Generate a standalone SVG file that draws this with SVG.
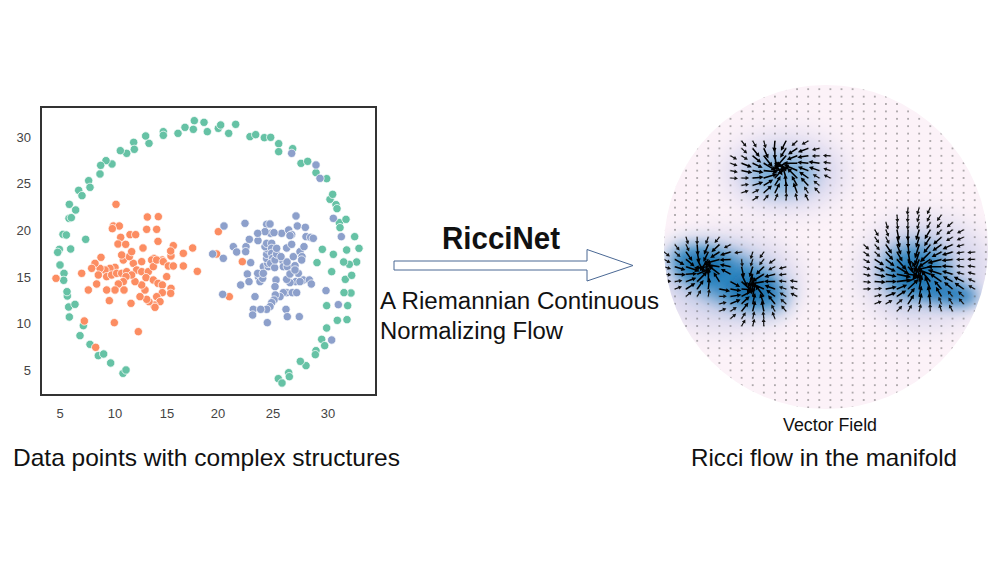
<svg xmlns="http://www.w3.org/2000/svg" width="1000" height="563" viewBox="0 0 1000 563">
<style>
.t{font-family:"Liberation Sans",Arial,sans-serif;fill:#111}
.tick{font-family:"Liberation Sans",Arial,sans-serif;font-size:13px;fill:#444}
.g circle{fill:#66c2a5;stroke:#fff;stroke-width:2.2}
.o circle{fill:#fc8d62;stroke:#fff;stroke-width:2.2}
.b circle{fill:#8da0cb;stroke:#fff;stroke-width:2.2}
.arr path{fill:none;stroke:none}
</style>
<defs>
<marker id="m3" markerUnits="userSpaceOnUse" orient="auto" overflow="visible" markerWidth="1" markerHeight="1" refX="0" refY="0"><path transform="rotate(15)" d="M0,-0.8L9.5,-0.8L9.5,-2.4L14.5,0L9.5,2.4L9.5,0.8L0,0.8Z" fill="#000"/></marker>
<marker id="m2" markerUnits="userSpaceOnUse" orient="auto" overflow="visible" markerWidth="1" markerHeight="1" refX="0" refY="0"><path transform="rotate(15)" d="M0,-0.75L6.8,-0.75L6.8,-2.2L11,0L6.8,2.2L6.8,0.75L0,0.75Z" fill="#000"/></marker>
<marker id="m1" markerUnits="userSpaceOnUse" orient="auto" overflow="visible" markerWidth="1" markerHeight="1" refX="0" refY="0"><path transform="rotate(15)" d="M0,-0.6L4,-0.6L4,-2L7.5,0L4,2L4,0.6L0,0.6Z" fill="#111"/></marker>
<pattern id="dots" patternUnits="userSpaceOnUse" x="669.45" y="211.3" width="11.1" height="7.4"><rect x="5.05" y="2.9" width="1" height="1.6" fill="#555"/></pattern>
<clipPath id="cc"><circle cx="826" cy="247" r="162"/></clipPath>
<filter id="bl12" x="-60%" y="-60%" width="220%" height="220%"><feGaussianBlur stdDeviation="13"/></filter>
<filter id="bl8" x="-60%" y="-60%" width="220%" height="220%"><feGaussianBlur stdDeviation="9"/></filter>
<filter id="bl5" x="-60%" y="-60%" width="220%" height="220%"><feGaussianBlur stdDeviation="7"/></filter>
</defs>
<rect width="1000" height="563" fill="#fff"/>

<g id="scatter-plot">
<rect x="41" y="107" width="335" height="288" fill="#fff" stroke="#333" stroke-width="2"/>
<g class="tick" text-anchor="middle">
<text x="60" y="418">5</text><text x="115" y="418">10</text><text x="167" y="418">15</text><text x="218" y="418">20</text><text x="273" y="418">25</text><text x="328" y="418">30</text>
</g>
<g class="tick" text-anchor="end">
<text x="31" y="142">30</text><text x="31" y="188">25</text><text x="31" y="235">20</text><text x="31" y="282">15</text><text x="31" y="328">10</text><text x="31" y="375">5</text>
</g>
<g transform="translate(0 100) scale(0.33333)">
<g class="g">
<circle cx="583" cy="62" r="12.5"/><circle cx="612" cy="67" r="12.5"/><circle cx="555" cy="82" r="12.5"/><circle cx="534" cy="100" r="12.5"/><circle cx="580" cy="88" r="12.5"/><circle cx="622" cy="95" r="12.5"/><circle cx="655" cy="85" r="12.5"/><circle cx="662" cy="75" r="12.5"/><circle cx="686" cy="100" r="12.5"/><circle cx="707" cy="73" r="12.5"/><circle cx="490" cy="95" r="12.5"/><circle cx="490" cy="106" r="12.5"/><circle cx="447" cy="130" r="12.5"/><circle cx="437" cy="108" r="12.5"/><circle cx="401" cy="127" r="12.5"/><circle cx="403" cy="148" r="12.5"/><circle cx="380" cy="160" r="12.5"/><circle cx="361" cy="152" r="12.5"/><circle cx="336" cy="192" r="12.5"/><circle cx="318" cy="182" r="12.5"/><circle cx="302" cy="196" r="12.5"/><circle cx="300" cy="222" r="12.5"/><circle cx="266" cy="242" r="12.5"/><circle cx="270" cy="262" r="12.5"/><circle cx="236" cy="271" r="12.5"/><circle cx="246" cy="287" r="12.5"/><circle cx="227" cy="330" r="12.5"/><circle cx="208" cy="313" r="12.5"/><circle cx="207" cy="355" r="12.5"/><circle cx="214" cy="353" r="12.5"/><circle cx="189" cy="403" r="12.5"/><circle cx="199" cy="405" r="12.5"/><circle cx="178" cy="448" r="12.5"/><circle cx="173" cy="457" r="12.5"/><circle cx="212" cy="447" r="12.5"/><circle cx="180" cy="495" r="12.5"/><circle cx="192" cy="520" r="12.5"/><circle cx="191" cy="541" r="12.5"/><circle cx="202" cy="588" r="12.5"/><circle cx="201" cy="575" r="12.5"/><circle cx="257" cy="418" r="12.5"/><circle cx="206" cy="621" r="12.5"/><circle cx="225" cy="613" r="12.5"/><circle cx="208" cy="651" r="12.5"/><circle cx="240" cy="707" r="12.5"/><circle cx="250" cy="677" r="12.5"/><circle cx="270" cy="733" r="12.5"/><circle cx="295" cy="767" r="12.5"/><circle cx="311" cy="762" r="12.5"/><circle cx="332" cy="789" r="12.5"/><circle cx="369" cy="820" r="12.5"/><circle cx="378" cy="810" r="12.5"/>
<circle cx="750" cy="110" r="12.5"/><circle cx="767" cy="104" r="12.5"/><circle cx="793" cy="113" r="12.5"/><circle cx="812" cy="112" r="12.5"/><circle cx="836" cy="131" r="12.5"/><circle cx="836" cy="155" r="12.5"/><circle cx="878" cy="146" r="12.5"/><circle cx="903" cy="190" r="12.5"/><circle cx="923" cy="184" r="12.5"/><circle cx="948" cy="218" r="12.5"/><circle cx="980" cy="236" r="12.5"/><circle cx="990" cy="298" r="12.5"/><circle cx="998" cy="283" r="12.5"/><circle cx="1008" cy="314" r="12.5"/><circle cx="1011" cy="326" r="12.5"/><circle cx="1018" cy="368" r="12.5"/><circle cx="1038" cy="358" r="12.5"/><circle cx="1020" cy="383" r="12.5"/><circle cx="1064" cy="410" r="12.5"/><circle cx="1077" cy="445" r="12.5"/><circle cx="1040" cy="450" r="12.5"/><circle cx="967" cy="448" r="12.5"/><circle cx="1000" cy="463" r="12.5"/><circle cx="1070" cy="486" r="12.5"/><circle cx="1048" cy="493" r="12.5"/><circle cx="1031" cy="486" r="12.5"/><circle cx="1036" cy="538" r="12.5"/><circle cx="1055" cy="526" r="12.5"/><circle cx="995" cy="515" r="12.5"/><circle cx="951" cy="488" r="12.5"/><circle cx="1053" cy="579" r="12.5"/><circle cx="1032" cy="578" r="12.5"/><circle cx="1043" cy="617" r="12.5"/><circle cx="1012" cy="661" r="12.5"/><circle cx="1041" cy="659" r="12.5"/><circle cx="980" cy="617" r="12.5"/><circle cx="980" cy="684" r="12.5"/><circle cx="965" cy="718" r="12.5"/><circle cx="974" cy="737" r="12.5"/><circle cx="948" cy="752" r="12.5"/><circle cx="946" cy="764" r="12.5"/><circle cx="918" cy="797" r="12.5"/><circle cx="901" cy="784" r="12.5"/><circle cx="866" cy="818" r="12.5"/><circle cx="868" cy="830" r="12.5"/><circle cx="835" cy="836" r="12.5"/><circle cx="846" cy="849" r="12.5"/>
</g>
<g class="o">
<circle cx="168" cy="535" r="12.5"/><circle cx="348" cy="313" r="12.5"/><circle cx="340" cy="378" r="12.5"/><circle cx="358" cy="378" r="12.5"/><circle cx="442" cy="351" r="12.5"/><circle cx="475" cy="350" r="12.5"/><circle cx="440" cy="388" r="12.5"/><circle cx="470" cy="388" r="12.5"/><circle cx="337" cy="386" r="12.5"/><circle cx="362" cy="412" r="12.5"/><circle cx="354" cy="432" r="12.5"/><circle cx="377" cy="433" r="12.5"/><circle cx="390" cy="404" r="12.5"/><circle cx="407" cy="404" r="12.5"/><circle cx="429" cy="444" r="12.5"/><circle cx="474" cy="424" r="12.5"/><circle cx="520" cy="437" r="12.5"/><circle cx="550" cy="460" r="12.5"/><circle cx="578" cy="444" r="12.5"/><circle cx="592" cy="514" r="12.5"/><circle cx="513" cy="468" r="12.5"/><circle cx="512" cy="453" r="12.5"/><circle cx="487" cy="480" r="12.5"/><circle cx="462" cy="475" r="12.5"/><circle cx="455" cy="480" r="12.5"/><circle cx="425" cy="485" r="12.5"/><circle cx="400" cy="490" r="12.5"/><circle cx="370" cy="480" r="12.5"/><circle cx="388" cy="470" r="12.5"/><circle cx="395" cy="455" r="12.5"/><circle cx="365" cy="465" r="12.5"/><circle cx="345" cy="502" r="12.5"/><circle cx="330" cy="505" r="12.5"/><circle cx="315" cy="510" r="12.5"/><circle cx="300" cy="505" r="12.5"/><circle cx="285" cy="490" r="12.5"/><circle cx="303" cy="472" r="12.5"/><circle cx="275" cy="505" r="12.5"/><circle cx="295" cy="525" r="12.5"/><circle cx="320" cy="530" r="12.5"/><circle cx="335" cy="525" r="12.5"/><circle cx="350" cy="520" r="12.5"/><circle cx="365" cy="520" r="12.5"/><circle cx="380" cy="515" r="12.5"/><circle cx="410" cy="510" r="12.5"/><circle cx="425" cy="515" r="12.5"/><circle cx="445" cy="515" r="12.5"/><circle cx="460" cy="500" r="12.5"/><circle cx="470" cy="480" r="12.5"/><circle cx="490" cy="485" r="12.5"/><circle cx="505" cy="498" r="12.5"/><circle cx="520" cy="498" r="12.5"/><circle cx="550" cy="498" r="12.5"/><circle cx="438" cy="533" r="12.5"/><circle cx="460" cy="540" r="12.5"/><circle cx="474" cy="550" r="12.5"/><circle cx="487" cy="555" r="12.5"/><circle cx="500" cy="530" r="12.5"/><circle cx="513" cy="565" r="12.5"/><circle cx="512" cy="580" r="12.5"/><circle cx="487" cy="578" r="12.5"/><circle cx="470" cy="590" r="12.5"/><circle cx="480" cy="605" r="12.5"/><circle cx="462" cy="615" r="12.5"/><circle cx="447" cy="605" r="12.5"/><circle cx="440" cy="598" r="12.5"/><circle cx="420" cy="590" r="12.5"/><circle cx="435" cy="570" r="12.5"/><circle cx="425" cy="555" r="12.5"/><circle cx="405" cy="545" r="12.5"/><circle cx="395" cy="525" r="12.5"/><circle cx="378" cy="530" r="12.5"/><circle cx="370" cy="545" r="12.5"/><circle cx="372" cy="570" r="12.5"/><circle cx="355" cy="552" r="12.5"/><circle cx="345" cy="570" r="12.5"/><circle cx="320" cy="570" r="12.5"/><circle cx="290" cy="552" r="12.5"/><circle cx="265" cy="570" r="12.5"/><circle cx="245" cy="520" r="12.5"/><circle cx="328" cy="602" r="12.5"/><circle cx="393" cy="610" r="12.5"/><circle cx="465" cy="622" r="12.5"/><circle cx="343" cy="668" r="12.5"/><circle cx="415" cy="695" r="12.5"/><circle cx="253" cy="663" r="12.5"/><circle cx="287" cy="742" r="12.5"/><circle cx="655" cy="395" r="12.5"/><circle cx="650" cy="462" r="12.5"/><circle cx="688" cy="590" r="12.5"/><circle cx="727" cy="485" r="12.5"/>
</g>
<g class="b">
<circle cx="875" cy="160" r="12.5"/><circle cx="948" cy="195" r="12.5"/><circle cx="960" cy="235" r="12.5"/><circle cx="1000" cy="355" r="12.5"/><circle cx="1024" cy="410" r="12.5"/><circle cx="978" cy="572" r="12.5"/><circle cx="1015" cy="614" r="12.5"/><circle cx="995" cy="720" r="12.5"/>
<circle cx="638" cy="462" r="12.5"/><circle cx="672" cy="378" r="12.5"/><circle cx="670" cy="475" r="12.5"/><circle cx="668" cy="583" r="12.5"/><circle cx="700" cy="440" r="12.5"/><circle cx="710" cy="456" r="12.5"/><circle cx="735" cy="370" r="12.5"/><circle cx="738" cy="440" r="12.5"/><circle cx="737" cy="455" r="12.5"/><circle cx="748" cy="418" r="12.5"/><circle cx="752" cy="488" r="12.5"/><circle cx="722" cy="555" r="12.5"/><circle cx="742" cy="522" r="12.5"/><circle cx="747" cy="545" r="12.5"/><circle cx="765" cy="590" r="12.5"/><circle cx="760" cy="628" r="12.5"/><circle cx="758" cy="645" r="12.5"/><circle cx="774" cy="422" r="12.5"/><circle cx="776" cy="532" r="12.5"/><circle cx="780" cy="545" r="12.5"/><circle cx="788" cy="535" r="12.5"/><circle cx="773" cy="520" r="12.5"/><circle cx="790" cy="500" r="12.5"/><circle cx="805" cy="500" r="12.5"/><circle cx="803" cy="490" r="12.5"/><circle cx="800" cy="476" r="12.5"/><circle cx="800" cy="463" r="12.5"/><circle cx="802" cy="447" r="12.5"/><circle cx="795" cy="440" r="12.5"/><circle cx="800" cy="430" r="12.5"/><circle cx="815" cy="430" r="12.5"/><circle cx="815" cy="445" r="12.5"/><circle cx="815" cy="460" r="12.5"/><circle cx="818" cy="475" r="12.5"/><circle cx="812" cy="490" r="12.5"/><circle cx="824" cy="503" r="12.5"/><circle cx="825" cy="480" r="12.5"/><circle cx="830" cy="462" r="12.5"/><circle cx="830" cy="445" r="12.5"/><circle cx="845" cy="400" r="12.5"/><circle cx="812" cy="400" r="12.5"/><circle cx="822" cy="398" r="12.5"/><circle cx="800" cy="373" r="12.5"/><circle cx="810" cy="372" r="12.5"/><circle cx="795" cy="395" r="12.5"/><circle cx="773" cy="400" r="12.5"/><circle cx="849" cy="483" r="12.5"/><circle cx="850" cy="500" r="12.5"/><circle cx="862" cy="500" r="12.5"/><circle cx="861" cy="486" r="12.5"/><circle cx="860" cy="444" r="12.5"/><circle cx="866" cy="390" r="12.5"/><circle cx="875" cy="404" r="12.5"/><circle cx="880" cy="470" r="12.5"/><circle cx="885" cy="497" r="12.5"/><circle cx="887" cy="545" r="12.5"/><circle cx="870" cy="548" r="12.5"/><circle cx="860" cy="538" r="12.5"/><circle cx="860" cy="578" r="12.5"/><circle cx="877" cy="578" r="12.5"/><circle cx="850" cy="578" r="12.5"/><circle cx="840" cy="590" r="12.5"/><circle cx="828" cy="540" r="12.5"/><circle cx="825" cy="560" r="12.5"/><circle cx="826" cy="585" r="12.5"/><circle cx="822" cy="600" r="12.5"/><circle cx="815" cy="608" r="12.5"/><circle cx="810" cy="620" r="12.5"/><circle cx="800" cy="628" r="12.5"/><circle cx="802" cy="668" r="12.5"/><circle cx="782" cy="628" r="12.5"/><circle cx="858" cy="628" r="12.5"/><circle cx="862" cy="650" r="12.5"/><circle cx="890" cy="578" r="12.5"/><circle cx="898" cy="650" r="12.5"/><circle cx="888" cy="348" r="12.5"/><circle cx="892" cy="378" r="12.5"/><circle cx="870" cy="407" r="12.5"/><circle cx="900" cy="455" r="12.5"/><circle cx="912" cy="440" r="12.5"/><circle cx="906" cy="470" r="12.5"/><circle cx="918" cy="410" r="12.5"/><circle cx="932" cy="412" r="12.5"/><circle cx="940" cy="415" r="12.5"/><circle cx="916" cy="382" r="12.5"/><circle cx="910" cy="540" r="12.5"/><circle cx="928" cy="540" r="12.5"/><circle cx="934" cy="552" r="12.5"/><circle cx="900" cy="545" r="12.5"/><circle cx="870" cy="522" r="12.5"/><circle cx="895" cy="520" r="12.5"/><circle cx="905" cy="480" r="12.5"/><circle cx="875" cy="433" r="12.5"/><circle cx="885" cy="510" r="12.5"/><circle cx="843" cy="470" r="12.5"/><circle cx="790" cy="520" r="12.5"/>
</g>
</g>
</g>

<g id="riccinet-label">
<text class="t" x="442" y="249" font-size="31" font-weight="bold" textLength="118" lengthAdjust="spacingAndGlyphs">RicciNet</text>
<text class="t" x="380" y="309" font-size="23.5" textLength="279" lengthAdjust="spacingAndGlyphs">A Riemannian Continuous</text>
<text class="t" x="380" y="339" font-size="23.5" textLength="183" lengthAdjust="spacingAndGlyphs">Normalizing Flow</text>
</g>

<g id="connectors">
<polygon points="394,261 587,261 587,249.5 633,265.5 587,281 587,270 394,270" fill="#fff" stroke="#4a6894" stroke-width="1"/>
</g>

<g id="vector-field">
<circle cx="826" cy="247" r="162" fill="#fcf2f8"/>
<g clip-path="url(#cc)">
<ellipse cx="785" cy="172" rx="60" ry="38" fill="#d9d7ee" filter="url(#bl12)"/>
<ellipse cx="782" cy="174" rx="34" ry="20" fill="#7aafd8" filter="url(#bl8)"/>
<ellipse cx="728" cy="282" rx="72" ry="48" fill="#d6d5ec" filter="url(#bl12)"/>
<ellipse cx="728" cy="278" rx="62" ry="24" transform="rotate(22 728 278)" fill="#3186c1" filter="url(#bl8)"/>
<ellipse cx="703" cy="266" rx="22" ry="11" fill="#1470ac" filter="url(#bl5)"/>
<ellipse cx="752" cy="289" rx="22" ry="12" fill="#1470ac" filter="url(#bl5)"/>
<ellipse cx="926" cy="272" rx="66" ry="54" fill="#d6d5ec" filter="url(#bl12)"/>
<ellipse cx="916" cy="271" rx="34" ry="28" fill="#3a8ac3" filter="url(#bl8)"/>
<ellipse cx="946" cy="292" rx="32" ry="12" transform="rotate(12 946 292)" fill="#2a7fbd" filter="url(#bl5)"/>
<ellipse cx="914" cy="274" rx="18" ry="13" fill="#1470ac" filter="url(#bl5)"/>
<rect x="660" y="80" width="335" height="335" fill="url(#dots)"/>
<g class="arr">
<g marker-start="url(#m3)">
<path d="M763.8 155.8L780 168"/><path d="M774.9 155.8L780 168"/><path d="M786 155.8L780 168"/><path d="M763.8 163.2L780 168"/><path d="M774.9 163.2L780 168"/><path d="M786 163.2L780 168"/><path d="M797.1 163.2L780 168"/><path d="M763.8 170.6L780 168"/><path d="M774.9 170.6L780 168"/><path d="M786 170.6L780 168"/><path d="M797.1 170.6L780 168"/><path d="M763.8 178L780 168"/><path d="M774.9 178L780 168"/><path d="M786 178L780 168"/><path d="M797.1 178L780 168"/>
<path d="M697.2 259.4L705 268"/><path d="M708.3 259.4L705 268"/><path d="M719.4 259.4L705 268"/><path d="M686.1 266.8L705 268"/><path d="M697.2 266.8L705 268"/><path d="M708.3 266.8L705 268"/><path d="M719.4 266.8L705 268"/><path d="M697.2 274.2L705 268"/><path d="M708.3 274.2L705 268"/><path d="M719.4 274.2L705 268"/><path d="M697.2 281.6L705 268"/><path d="M708.3 281.6L705 268"/>
<path d="M741.6 274.2L752 287"/><path d="M752.7 274.2L752 287"/><path d="M763.8 274.2L752 287"/><path d="M741.6 281.6L752 287"/><path d="M752.7 281.6L752 287"/><path d="M763.8 281.6L752 287"/><path d="M741.6 289L752 287"/><path d="M752.7 289L752 287"/><path d="M763.8 289L752 287"/><path d="M741.6 296.4L752 287"/><path d="M752.7 296.4L752 287"/><path d="M763.8 296.4L752 287"/>
<path d="M919.2 244.6L918 273"/><path d="M908.1 252L918 273"/><path d="M919.2 252L918 273"/><path d="M930.3 252L918 273"/><path d="M897 259.4L918 273"/><path d="M908.1 259.4L918 273"/><path d="M919.2 259.4L918 273"/><path d="M930.3 259.4L918 273"/><path d="M941.4 259.4L918 273"/><path d="M897 266.8L918 273"/><path d="M908.1 266.8L918 273"/><path d="M919.2 266.8L918 273"/><path d="M930.3 266.8L918 273"/><path d="M941.4 266.8L918 273"/><path d="M897 274.2L918 273"/><path d="M908.1 274.2L918 273"/><path d="M919.2 274.2L918 273"/><path d="M930.3 274.2L918 273"/><path d="M941.4 274.2L918 273"/><path d="M897 281.6L918 273"/><path d="M908.1 281.6L918 273"/><path d="M919.2 281.6L918 273"/><path d="M930.3 281.6L918 273"/><path d="M941.4 281.6L918 273"/><path d="M908.1 289L918 273"/><path d="M919.2 289L918 273"/><path d="M930.3 289L918 273"/>
</g>
<g marker-start="url(#m2)">
<path d="M774.9 141L780 168"/><path d="M786 141L780 168"/><path d="M752.7 148.4L780 168"/><path d="M763.8 148.4L780 168"/><path d="M774.9 148.4L780 168"/><path d="M786 148.4L780 168"/><path d="M797.1 148.4L780 168"/><path d="M808.2 148.4L780 168"/><path d="M752.7 155.8L780 168"/><path d="M797.1 155.8L780 168"/><path d="M808.2 155.8L780 168"/><path d="M741.6 163.2L780 168"/><path d="M752.7 163.2L780 168"/><path d="M808.2 163.2L780 168"/><path d="M819.3 163.2L780 168"/><path d="M741.6 170.6L780 168"/><path d="M752.7 170.6L780 168"/><path d="M808.2 170.6L780 168"/><path d="M819.3 170.6L780 168"/><path d="M752.7 178L780 168"/><path d="M808.2 178L780 168"/><path d="M752.7 185.4L780 168"/><path d="M763.8 185.4L780 168"/><path d="M774.9 185.4L780 168"/><path d="M786 185.4L780 168"/><path d="M797.1 185.4L780 168"/><path d="M808.2 185.4L780 168"/><path d="M763.8 192.8L780 168"/><path d="M774.9 192.8L780 168"/><path d="M786 192.8L780 168"/><path d="M797.1 192.8L780 168"/>
<path d="M697.2 244.6L705 268"/><path d="M708.3 244.6L705 268"/><path d="M719.4 244.6L705 268"/><path d="M686.1 252L705 268"/><path d="M697.2 252L705 268"/><path d="M708.3 252L705 268"/><path d="M719.4 252L705 268"/><path d="M730.5 252L705 268"/><path d="M675 259.4L705 268"/><path d="M686.1 259.4L705 268"/><path d="M730.5 259.4L705 268"/><path d="M675 266.8L705 268"/><path d="M730.5 266.8L705 268"/><path d="M675 274.2L705 268"/><path d="M686.1 274.2L705 268"/><path d="M730.5 274.2L705 268"/><path d="M686.1 281.6L705 268"/><path d="M719.4 281.6L705 268"/><path d="M686.1 289L705 268"/><path d="M697.2 289L705 268"/><path d="M708.3 289L705 268"/>
<path d="M741.6 266.8L752 287"/><path d="M752.7 266.8L752 287"/><path d="M763.8 266.8L752 287"/><path d="M774.9 274.2L752 287"/><path d="M730.5 281.6L752 287"/><path d="M774.9 281.6L752 287"/><path d="M719.4 289L752 287"/><path d="M730.5 289L752 287"/><path d="M774.9 289L752 287"/><path d="M730.5 296.4L752 287"/><path d="M774.9 296.4L752 287"/><path d="M730.5 303.8L752 287"/><path d="M741.6 303.8L752 287"/><path d="M752.7 303.8L752 287"/><path d="M763.8 303.8L752 287"/><path d="M774.9 303.8L752 287"/><path d="M741.6 311.2L752 287"/><path d="M752.7 311.2L752 287"/><path d="M763.8 311.2L752 287"/>
<path d="M897 229.8L918 273"/><path d="M908.1 229.8L918 273"/><path d="M919.2 229.8L918 273"/><path d="M930.3 229.8L918 273"/><path d="M897 237.2L918 273"/><path d="M908.1 237.2L918 273"/><path d="M919.2 237.2L918 273"/><path d="M930.3 237.2L918 273"/><path d="M941.4 237.2L918 273"/><path d="M885.9 244.6L918 273"/><path d="M897 244.6L918 273"/><path d="M908.1 244.6L918 273"/><path d="M930.3 244.6L918 273"/><path d="M941.4 244.6L918 273"/><path d="M952.5 244.6L918 273"/><path d="M885.9 252L918 273"/><path d="M897 252L918 273"/><path d="M941.4 252L918 273"/><path d="M952.5 252L918 273"/><path d="M874.8 259.4L918 273"/><path d="M885.9 259.4L918 273"/><path d="M952.5 259.4L918 273"/><path d="M874.8 266.8L918 273"/><path d="M885.9 266.8L918 273"/><path d="M952.5 266.8L918 273"/><path d="M874.8 274.2L918 273"/><path d="M885.9 274.2L918 273"/><path d="M952.5 274.2L918 273"/><path d="M874.8 281.6L918 273"/><path d="M885.9 281.6L918 273"/><path d="M952.5 281.6L918 273"/><path d="M885.9 289L918 273"/><path d="M897 289L918 273"/><path d="M941.4 289L918 273"/><path d="M952.5 289L918 273"/><path d="M885.9 296.4L918 273"/><path d="M897 296.4L918 273"/><path d="M908.1 296.4L918 273"/><path d="M919.2 296.4L918 273"/><path d="M930.3 296.4L918 273"/><path d="M941.4 296.4L918 273"/><path d="M908.1 303.8L918 273"/><path d="M919.2 303.8L918 273"/><path d="M930.3 303.8L918 273"/><path d="M963.6 289L918 273"/><path d="M963.6 281.6L918 273"/>
</g>
<g marker-start="url(#m1)">
<path d="M741.6 141L780 168"/><path d="M752.7 141L780 168"/><path d="M763.8 141L780 168"/><path d="M797.1 141L780 168"/><path d="M808.2 141L780 168"/><path d="M741.6 148.4L780 168"/><path d="M819.3 148.4L780 168"/><path d="M730.5 155.8L780 168"/><path d="M741.6 155.8L780 168"/><path d="M819.3 155.8L780 168"/><path d="M830.4 155.8L780 168"/><path d="M730.5 163.2L780 168"/><path d="M830.4 163.2L780 168"/><path d="M730.5 170.6L780 168"/><path d="M830.4 170.6L780 168"/><path d="M730.5 178L780 168"/><path d="M741.6 178L780 168"/><path d="M819.3 178L780 168"/><path d="M830.4 178L780 168"/><path d="M741.6 185.4L780 168"/><path d="M819.3 185.4L780 168"/><path d="M741.6 192.8L780 168"/><path d="M752.7 192.8L780 168"/><path d="M808.2 192.8L780 168"/><path d="M819.3 192.8L780 168"/><path d="M752.7 200.2L780 168"/><path d="M763.8 200.2L780 168"/><path d="M774.9 200.2L780 168"/><path d="M786 200.2L780 168"/><path d="M797.1 200.2L780 168"/><path d="M808.2 200.2L780 168"/>
<path d="M686.1 237.2L705 268"/><path d="M697.2 237.2L705 268"/><path d="M708.3 237.2L705 268"/><path d="M719.4 237.2L705 268"/><path d="M675 244.6L705 268"/><path d="M686.1 244.6L705 268"/><path d="M730.5 244.6L705 268"/><path d="M663.9 252L705 268"/><path d="M675 252L705 268"/><path d="M741.6 252L705 268"/><path d="M663.9 259.4L705 268"/><path d="M663.9 266.8L705 268"/><path d="M663.9 274.2L705 268"/><path d="M663.9 281.6L705 268"/><path d="M675 281.6L705 268"/><path d="M675 289L705 268"/><path d="M686.1 296.4L705 268"/><path d="M697.2 296.4L705 268"/><path d="M708.3 296.4L705 268"/>
<path d="M752.7 252L752 287"/><path d="M763.8 252L752 287"/><path d="M741.6 259.4L752 287"/><path d="M752.7 259.4L752 287"/><path d="M763.8 259.4L752 287"/><path d="M774.9 259.4L752 287"/><path d="M774.9 266.8L752 287"/><path d="M786 266.8L752 287"/><path d="M786 274.2L752 287"/><path d="M786 281.6L752 287"/><path d="M797.1 281.6L752 287"/><path d="M786 289L752 287"/><path d="M797.1 289L752 287"/><path d="M719.4 296.4L752 287"/><path d="M786 296.4L752 287"/><path d="M797.1 296.4L752 287"/><path d="M719.4 303.8L752 287"/><path d="M786 303.8L752 287"/><path d="M719.4 311.2L752 287"/><path d="M730.5 311.2L752 287"/><path d="M774.9 311.2L752 287"/><path d="M786 311.2L752 287"/><path d="M730.5 318.6L752 287"/><path d="M741.6 318.6L752 287"/><path d="M752.7 318.6L752 287"/><path d="M763.8 318.6L752 287"/><path d="M774.9 318.6L752 287"/><path d="M741.6 326L752 287"/><path d="M752.7 326L752 287"/><path d="M763.8 326L752 287"/>
<path d="M908.1 207.6L918 273"/><path d="M919.2 207.6L918 273"/><path d="M930.3 207.6L918 273"/><path d="M897 215L918 273"/><path d="M908.1 215L918 273"/><path d="M919.2 215L918 273"/><path d="M930.3 215L918 273"/><path d="M941.4 215L918 273"/><path d="M885.9 222.4L918 273"/><path d="M897 222.4L918 273"/><path d="M908.1 222.4L918 273"/><path d="M919.2 222.4L918 273"/><path d="M930.3 222.4L918 273"/><path d="M941.4 222.4L918 273"/><path d="M952.5 222.4L918 273"/><path d="M874.8 229.8L918 273"/><path d="M885.9 229.8L918 273"/><path d="M941.4 229.8L918 273"/><path d="M952.5 229.8L918 273"/><path d="M963.6 229.8L918 273"/><path d="M874.8 237.2L918 273"/><path d="M885.9 237.2L918 273"/><path d="M952.5 237.2L918 273"/><path d="M963.6 237.2L918 273"/><path d="M863.7 244.6L918 273"/><path d="M874.8 244.6L918 273"/><path d="M963.6 244.6L918 273"/><path d="M863.7 252L918 273"/><path d="M874.8 252L918 273"/><path d="M963.6 252L918 273"/><path d="M974.7 252L918 273"/><path d="M863.7 259.4L918 273"/><path d="M963.6 259.4L918 273"/><path d="M974.7 259.4L918 273"/><path d="M863.7 266.8L918 273"/><path d="M963.6 266.8L918 273"/><path d="M974.7 266.8L918 273"/><path d="M863.7 274.2L918 273"/><path d="M963.6 274.2L918 273"/><path d="M974.7 274.2L918 273"/><path d="M863.7 281.6L918 273"/><path d="M974.7 281.6L918 273"/><path d="M863.7 289L918 273"/><path d="M874.8 289L918 273"/><path d="M974.7 289L918 273"/><path d="M874.8 296.4L918 273"/><path d="M952.5 296.4L918 273"/><path d="M963.6 296.4L918 273"/><path d="M874.8 303.8L918 273"/><path d="M885.9 303.8L918 273"/><path d="M897 303.8L918 273"/><path d="M941.4 303.8L918 273"/><path d="M952.5 303.8L918 273"/><path d="M963.6 303.8L918 273"/><path d="M897 311.2L918 273"/><path d="M908.1 311.2L918 273"/><path d="M919.2 311.2L918 273"/><path d="M930.3 311.2L918 273"/><path d="M941.4 311.2L918 273"/><path d="M952.5 311.2L918 273"/>
</g>
</g>
</g>
<text class="t" x="830" y="431" font-size="17.5" text-anchor="middle" textLength="94" lengthAdjust="spacingAndGlyphs">Vector Field</text>
</g>

<g id="captions">
<text class="t" x="13" y="466" font-size="24" textLength="387" lengthAdjust="spacingAndGlyphs">Data points with complex structures</text>
<text class="t" x="691" y="466" font-size="24" textLength="266" lengthAdjust="spacingAndGlyphs">Ricci flow in the manifold</text>
</g>
</svg>
